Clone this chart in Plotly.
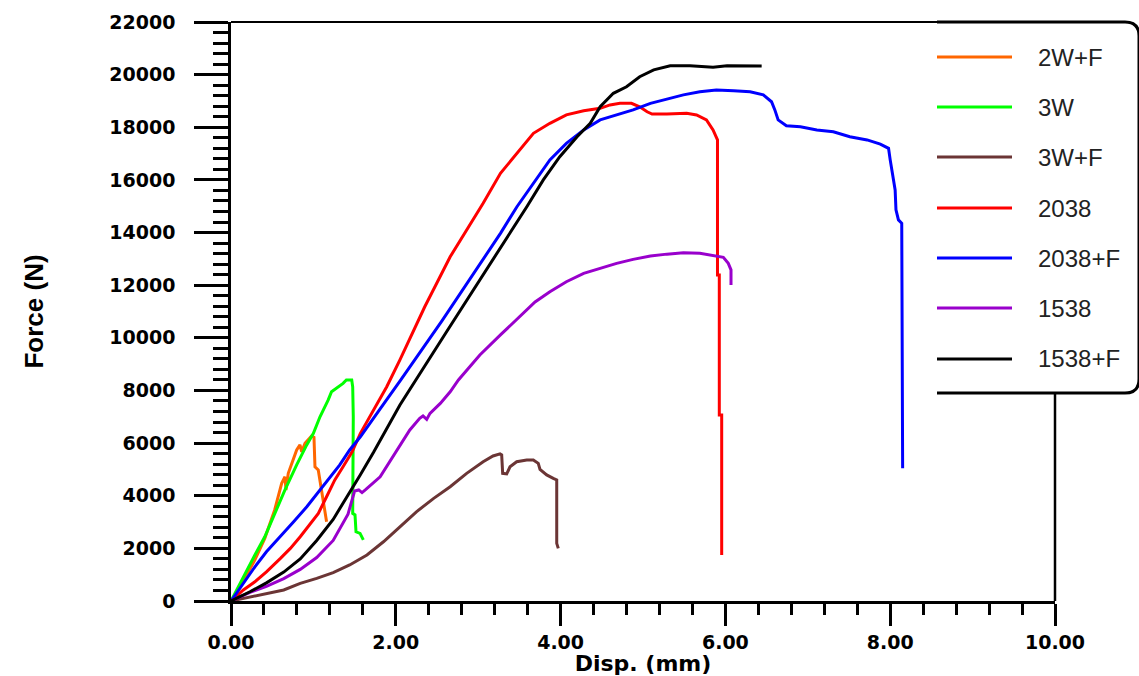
import plotly.graph_objects as go

# ---------------- data ----------------
names = ["2W+F", "3W", "3W+F", "2038", "2038+F", "1538", "1538+F"]
colors = ["#FF6600", "#00FF00", "#6B3535", "#FF0000", "#0000FF", "#9900CC", "#000000"]

x_2wf = [0, 0.03, 0.29, 0.41, 0.53, 0.615, 0.655, 0.667, 0.695, 0.797, 0.837, 0.858, 0.898, 0.979, 1.007, 1.019, 1.059, 1.10, 1.14, 1.16]
y_2wf = [0, 100, 1560, 2380, 3460, 4470, 4720, 4220, 4850, 5740, 5930, 5670, 5990, 6270, 6220, 5100, 4980, 4220, 3460, 3010]

x_3w = [0, 0.15, 0.29, 0.41, 0.53, 0.655, 0.797, 0.919, 1.0, 1.08, 1.18, 1.22, 1.36, 1.40, 1.465, 1.477, 1.484, 1.477, 1.505, 1.517, 1.566, 1.606]
y_3w = [0, 920, 1750, 2440, 3330, 4220, 5170, 5930, 6370, 7000, 7640, 7950, 8270, 8400, 8400, 8140, 7000, 3330, 3270, 2630, 2570, 2320]

x_3wf = [0, 0.23, 0.43, 0.64, 0.84, 1.04, 1.24, 1.44, 1.65, 1.85, 2.05, 2.25, 2.46, 2.66, 2.86, 3.06, 3.18, 3.265, 3.285, 3.297, 3.346, 3.386, 3.467, 3.589, 3.669, 3.729, 3.75, 3.831, 3.911, 3.953, 3.953, 3.972]
y_3wf = [0, 160, 270, 420, 670, 860, 1080, 1370, 1750, 2250, 2820, 3390, 3900, 4340, 4850, 5290, 5510, 5590, 5550, 4850, 4830, 5100, 5290, 5360, 5360, 5230, 5000, 4790, 4660, 4600, 2190, 2000]

x_2038 = [0, 0.15, 0.29, 0.43, 0.60, 0.72, 0.84, 0.96, 1.06, 1.16, 1.26, 1.36, 1.47, 1.57, 1.73, 1.89, 2.05, 2.35, 2.66, 2.86, 3.06, 3.27, 3.47, 3.67, 3.87, 4.07, 4.28, 4.48, 4.60, 4.72, 4.86, 4.96, 5.05, 5.11, 5.29, 5.53, 5.65, 5.77, 5.85, 5.904, 5.904, 5.926, 5.926, 5.955, 5.955]
y_2038 = [0, 420, 730, 1110, 1620, 2000, 2440, 2950, 3330, 3960, 4600, 5100, 5670, 6370, 7260, 8140, 9160, 11170, 13080, 14100, 15110, 16250, 17010, 17770, 18150, 18470, 18630, 18720, 18850, 18910, 18910, 18780, 18590, 18500, 18500, 18530, 18470, 18280, 17900, 17520, 12390, 12390, 7070, 7070, 1750]

x_2038f = [0, 0.15, 0.29, 0.43, 0.60, 0.76, 0.92, 1.06, 1.16, 1.32, 1.44, 1.57, 1.81, 2.05, 2.56, 3.06, 3.27, 3.47, 3.67, 3.87, 4.07, 4.28, 4.48, 4.68, 4.88, 5.09, 5.29, 5.49, 5.69, 5.89, 6.10, 6.30, 6.46, 6.56, 6.60, 6.64, 6.74, 6.91, 7.11, 7.31, 7.51, 7.72, 7.88, 7.98, 8.00, 8.03, 8.06, 8.07, 8.10, 8.14, 8.143, 8.151]
y_2038f = [0, 670, 1300, 1870, 2440, 3010, 3580, 4150, 4530, 5170, 5740, 6240, 7300, 8350, 10640, 12980, 13970, 14980, 15870, 16760, 17390, 17900, 18280, 18470, 18660, 18910, 19060, 19230, 19350, 19420, 19390, 19350, 19230, 18970, 18660, 18280, 18060, 18020, 17900, 17830, 17640, 17520, 17360, 17200, 16760, 16190, 15620, 14860, 14480, 14350, 12580, 5040]

x_1538 = [0, 0.23, 0.43, 0.64, 0.84, 1.04, 1.24, 1.42, 1.50, 1.55, 1.59, 1.63, 1.81, 2.05, 2.17, 2.29, 2.33, 2.375, 2.415, 2.54, 2.66, 2.76, 3.02, 3.27, 3.51, 3.69, 3.87, 4.07, 4.28, 4.48, 4.68, 4.88, 5.09, 5.29, 5.49, 5.69, 5.89, 5.975, 6.035, 6.068, 6.068]
y_1538 = [0, 330, 560, 850, 1200, 1650, 2300, 3300, 4180, 4220, 4120, 4220, 4720, 5930, 6500, 6940, 7030, 6900, 7130, 7510, 7950, 8400, 9350, 10110, 10830, 11360, 11750, 12130, 12450, 12640, 12830, 12980, 13110, 13180, 13230, 13210, 13110, 13060, 12830, 12580, 12010]

x_1538f = [0, 0.23, 0.43, 0.64, 0.84, 1.04, 1.24, 1.42, 1.57, 1.73, 1.89, 2.05, 2.62, 3.18, 3.39, 3.59, 3.79, 3.99, 4.20, 4.36, 4.48, 4.64, 4.80, 4.96, 5.13, 5.33, 5.57, 5.85, 6.02, 6.44]
y_1538f = [0, 350, 690, 1100, 1600, 2300, 3100, 4000, 4800, 5650, 6550, 7450, 10250, 12980, 13970, 14980, 16000, 16880, 17640, 18150, 18780, 19290, 19540, 19920, 20180, 20340, 20340, 20280, 20340, 20330]

series_x = [x_2wf, x_3w, x_3wf, x_2038, x_2038f, x_1538, x_1538f]
series_y = [y_2wf, y_3w, y_3wf, y_2038, y_2038f, y_1538, y_1538f]

# ---------------- figure ----------------
W, H = 1139, 676
L, R, T, B = 231, 84, 22, 75
PW, PH = W - L - R, H - T - B


def px(xp):
    return (xp - L) / PW


def py(yp):
    return (H - B - yp) / PH


fig = go.Figure()
for nm, c, xs, ys in zip(names, colors, series_x, series_y):
    fig.add_trace(go.Scatter(x=xs, y=ys, mode="lines", name=nm,
                             line=dict(color=c, width=3), showlegend=False))

tick_font = dict(family="DejaVu Sans", size=19, color="black", weight="bold")

fig.update_layout(
    width=W, height=H, autosize=False,
    margin=dict(l=L, r=R, t=T, b=B, pad=0),
    paper_bgcolor="white", plot_bgcolor="white",
    xaxis=dict(
        range=[0, 10], dtick=2, tick0=0, tickformat=".2f", automargin=False,
        showgrid=False, zeroline=False,
        showline=True, linecolor="black", linewidth=2.5,
        ticks="outside", ticklen=22, tickwidth=2.5, tickcolor="black",
        minor=dict(ticks="outside", ticklen=11, tickwidth=2.5, tickcolor="black", dtick=0.4, showgrid=False),
        tickfont=tick_font, ticklabelstandoff=0,
        title=dict(text="Disp. (mm)", font=dict(family="DejaVu Sans", size=22, color="black", weight="bold"),
                   standoff=3),
    ),
    yaxis=dict(
        range=[0, 22000], dtick=2000, tick0=0, tickformat="d", automargin=False,
        showgrid=False, zeroline=False,
        showline=True, linecolor="black", linewidth=2.5,
        ticks="outside", ticklen=34, tickwidth=2.5, tickcolor="black",
        minor=dict(ticks="outside", ticklen=15, tickwidth=2.5, tickcolor="black", dtick=400, showgrid=False),
        tickfont=tick_font, ticklabelstandoff=15,
        title=dict(text="Force (N)", font=dict(family="Liberation Sans Narrow, Liberation Sans", size=26,
                                               color="black", weight="bold"),
                   standoff=59),
    ),
)

# frame: top line, legend box (top, right rounded corners, bottom), right axis below the box
leg_left, leg_right, leg_top, leg_bot = 937, 1139, 22, 393
fig.add_shape(type="line", xref="paper", yref="paper", x0=0, x1=px(leg_left), y0=1, y1=1,
              line=dict(color="black", width=2), layer="above")
rr = 14
path = (f"M {px(leg_left)},{py(leg_top)} L {px(leg_right - rr)},{py(leg_top)} "
        f"Q {px(leg_right)},{py(leg_top)} {px(leg_right)},{py(leg_top + rr)} "
        f"L {px(leg_right)},{py(leg_bot - rr)} "
        f"Q {px(leg_right)},{py(leg_bot)} {px(leg_right - rr)},{py(leg_bot)} "
        f"L {px(leg_left)},{py(leg_bot)}")
fig.add_shape(type="path", xref="paper", yref="paper", path=path,
              line=dict(color="black", width=3), layer="above")
fig.add_shape(type="line", xref="paper", yref="paper", x0=1, x1=1, y0=0, y1=py(leg_bot),
              line=dict(color="black", width=2.5), layer="above")

# custom legend
leg_y = [57, 107, 157, 208, 258, 308, 359]
for nm, c, yy in zip(names, colors, leg_y):
    fig.add_shape(type="line", xref="paper", yref="paper", x0=px(937), x1=px(1012), y0=py(yy), y1=py(yy),
                  line=dict(color=c, width=3), layer="above")
    fig.add_annotation(xref="paper", yref="paper", x=px(1036), y=py(yy), text=nm, showarrow=False,
                       xanchor="left", yanchor="middle",
                       font=dict(family="Liberation Sans", size=24, color="#222222"))

fig.write_html("out.html", config={"displayModeBar": False},
               post_script="document.body.style.margin='0px';")
